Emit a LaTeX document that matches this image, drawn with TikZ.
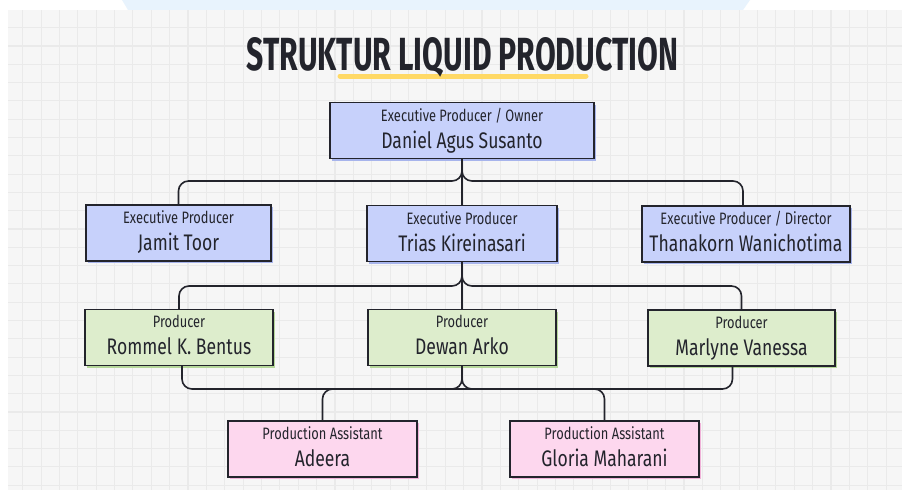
\documentclass[tikz,border=0pt]{standalone}
\usepackage{fontspec}
\setmainfont{Fira Sans}[FakeStretch=0.78]
\usepackage{graphicx}
\usepackage{tikz}
\usetikzlibrary{shadows}

\definecolor{inkc}{HTML}{23242C}
\definecolor{paperc}{HTML}{F6F6F6}
\definecolor{gridc}{HTML}{EAEAEA}
\definecolor{bandc}{HTML}{E8F3FD}
\definecolor{markerc}{HTML}{FFD966}
\definecolor{execfill}{HTML}{C7D1FB}
\definecolor{execshade}{HTML}{A7B4EC}
\definecolor{prodfill}{HTML}{DDEDCC}
\definecolor{prodshade}{HTML}{B5D79A}
\definecolor{assistfill}{HTML}{FDD7EE}
\definecolor{assistshade}{HTML}{F0B2D8}

\newcommand\rolef{\fontsize{16.5}{19}\selectfont}
\newcommand\namef{\fontsize{22.5}{26}\selectfont}

\begin{document}
\begin{tikzpicture}[
    x=1pt, y=-1pt,
    % Node styles
    person/.style={rectangle, draw=inkc, line width=1.3pt, minimum height=56pt, inner sep=0pt, align=center, text=inkc, font=\namef},
    execbox/.style={person, fill=execfill, general shadow={shadow xshift=2pt, shadow yshift=-2pt, fill=execshade}},
    prodbox/.style={person, fill=prodfill, general shadow={shadow xshift=2pt, shadow yshift=-2pt, fill=prodshade}},
    assistbox/.style={person, fill=assistfill, general shadow={shadow xshift=2pt, shadow yshift=-2pt, fill=assistshade}},
    link/.style={draw=inkc, line width=1.6pt, rounded corners=10pt},
    gridline/.style={draw=gridc, line width=1.1pt},
]

% Paper background with grid
\useasboundingbox (0,0) rectangle (902,490);
\fill[white] (0,0) rectangle (902,490);
\fill[bandc] (122,0) -- (750,0) -- (743,10) -- (128,10) -- cycle;
\fill[paperc] (8,10) rectangle (902,490);
\begin{scope}
  \clip (8,10) rectangle (902,490);
  \foreach \gx in {1,...,49} \draw[gridline] ({4.33+18.37*\gx},10) -- ({4.33+18.37*\gx},490);
  \foreach \gy in {1,...,26} \draw[gridline] (8,{9.4+18.3*\gy}) -- (902,{9.4+18.3*\gy});
\end{scope}

% Title
\draw[markerc, line width=5pt, line cap=round] (340,76) -- (586,76);
\node[anchor=base, text=inkc, inner sep=0pt] (title) at (462.5,70)
    {\resizebox{431pt}{33pt}{\bfseries STRUKTUR LIQUID PRODUCTION}};

% Executive level
\node[execbox, minimum width=264pt] (owner) at (462,130.5)
    {{\rolef Executive Producer / Owner}\\[1pt]Daniel Agus Susanto\vphantom{g}};
\node[execbox, minimum width=185pt] (jamit) at (178.5,233)
    {{\rolef Executive Producer}\\[1pt]Jamit Toor\vphantom{g}};
\node[execbox, minimum width=190pt] (trias) at (462,233.5)
    {{\rolef Executive Producer}\\[1pt]Trias Kireinasari\vphantom{g}};
\node[execbox, minimum width=208pt] (thanakorn) at (746,234)
    {{\rolef Executive Producer / Director}\\[1pt]Thanakorn Wanichotima\vphantom{g}};

% Producers
\node[prodbox, minimum width=188pt] (rommel) at (179,337.5)
    {{\rolef Producer}\\[1pt]Rommel K. Bentus\vphantom{g}};
\node[prodbox, minimum width=188pt] (dewan) at (462,337.5)
    {{\rolef Producer}\\[1pt]Dewan Arko\vphantom{g}};
\node[prodbox, minimum width=187pt] (marlyne) at (741.5,338)
    {{\rolef Producer}\\[1pt]Marlyne Vanessa\vphantom{g}};

% Production assistants
\node[assistbox, minimum width=189pt] (adeera) at (322.5,449)
    {{\rolef Production Assistant}\\[1pt]Adeera\vphantom{g}};
\node[assistbox, minimum width=189pt] (gloria) at (604.5,449)
    {{\rolef Production Assistant}\\[1pt]Gloria Maharani\vphantom{g}};

% Junction levels
\coordinate (j1) at (462,181);
\coordinate (j2) at (462,286);
\coordinate (j3) at (462,389);

% Owner -> executives
\draw[link] (owner.south) -- (trias.north);
\draw[link] (owner.south) |- (jamit.north |- j1) -- (jamit.north);
\draw[link] (owner.south) |- ([xshift=-3pt]thanakorn.north |- j1) -- ([xshift=-3pt]thanakorn.north);

% Trias -> producers
\draw[link] (trias.south) -- (dewan.north);
\draw[link] (trias.south) |- (rommel.north |- j2) -- (rommel.north);
\draw[link] (trias.south) |- (marlyne.north |- j2) -- (marlyne.north);

% Producers -> assistants
\draw[link] (dewan.south) |- ([xshift=3pt]rommel.south |- j3) -- ([xshift=3pt]rommel.south);
\draw[link] (dewan.south) |- ([xshift=-9pt]marlyne.south |- j3) -- ([xshift=-9pt]marlyne.south);
\draw[link] (j3) -| (adeera.north);
\draw[link] (j3) -| (gloria.north);

\end{tikzpicture}
\end{document}
